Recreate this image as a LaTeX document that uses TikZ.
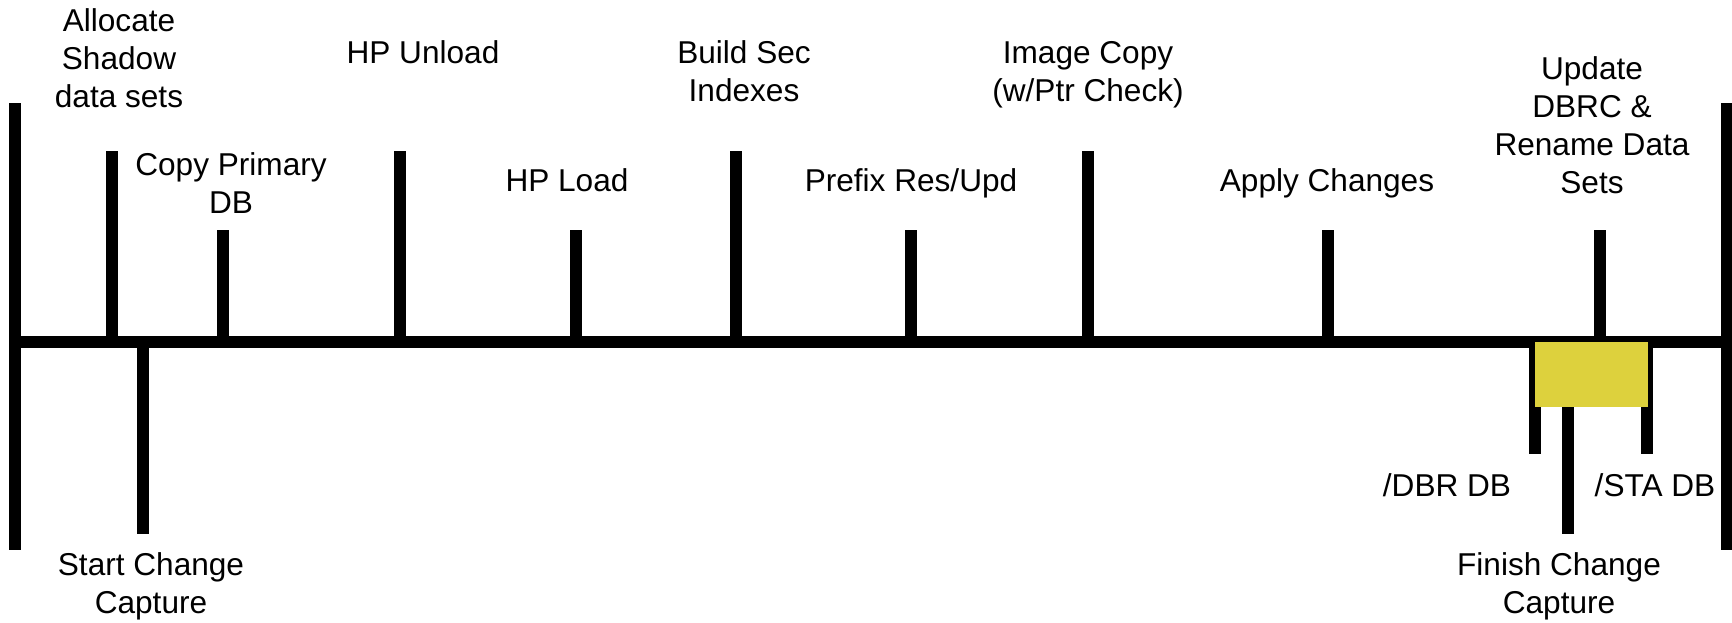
\documentclass[tikz,border=0pt]{standalone}
\usepackage{fontspec}
\setmainfont{Liberation Sans}
\definecolor{boxyellow}{RGB}{221,209,61}
\begin{document}
\begin{tikzpicture}[x=1pt,y=-1pt,
  bar/.style={line width=12pt,black,line cap=butt},
  lbl/.style={font=\fontsize{31.6}{38}\selectfont,align=center,anchor=base,inner sep=0pt}]
\useasboundingbox (0,0) rectangle (1732,622);
% main line and end bars
\coordinate (L) at (15,342); \coordinate (R) at (1727,342);
\coordinate (Ltop) at (15,103); \coordinate (Lbot) at (15,550);
\coordinate (Rtop) at (1727,103); \coordinate (Rbot) at (1727,550);
\draw[bar] (L) -- (R);
\draw[bar] (Ltop) -- (Lbot);
\draw[bar] (Rtop) -- (Rbot);
% upper ticks
\foreach \n/\x/\t in {alloc/111.5/151, copy/223/230, unl/399.5/151, load/575.5/230,
  build/735.5/151, prefix/911/230, image/1087.5/151, apply/1327.5/230, upd/1600/230}{
  \coordinate (\n top) at (\x,\t);
  \coordinate (\n base) at (\x,342);
  \draw[bar] (\n top) -- (\n base);
}
% lower ticks
\coordinate (startbase) at (143,342); \coordinate (startend) at (143,534);
\draw[bar] (startbase) -- (startend);
\coordinate (dbrbase) at (1535,342); \coordinate (dbrend) at (1535,454);
\draw[bar] (dbrbase) -- (dbrend);
\coordinate (stabase) at (1647,342); \coordinate (staend) at (1647,454);
\draw[bar] (stabase) -- (staend);
\coordinate (finbase) at (1567.5,400); \coordinate (finend) at (1567.5,534);
\draw[bar] (finbase) -- (finend);
% yellow box
\fill[boxyellow] (1535,342) rectangle (1648,407);
% labels (anchor = baseline of last line)
\node[lbl] (talloc) at (119,107) {Allocate\\Shadow\\data sets};
\node[lbl] (tcopy) at (231,213) {Copy Primary\\DB};
\node[lbl] (tunl) at (423,63) {HP Unload};
\node[lbl] (tload) at (567,191) {HP Load};
\node[lbl] (tbuild) at (744,101) {Build Sec\\Indexes};
\node[lbl] (tprefix) at (911,191) {Prefix Res/Upd};
\node[lbl] (timage) at (1088,101) {Image Copy\\(w/Ptr Check)};
\node[lbl] (tapply) at (1327,191) {Apply Changes};
\node[lbl] (tupd) at (1592,193) {Update\\DBRC \&\\Rename Data\\Sets};
\node[lbl] (tdbr) at (1447,496) {/DBR DB};
\node[lbl] (tsta) at (1655,496) {/STA DB};
\node[lbl] (tfin) at (1559,613) {Finish Change\\Capture};
\node[lbl] (tstart) at (151,613) {Start Change\\Capture};
\end{tikzpicture}
\end{document}
